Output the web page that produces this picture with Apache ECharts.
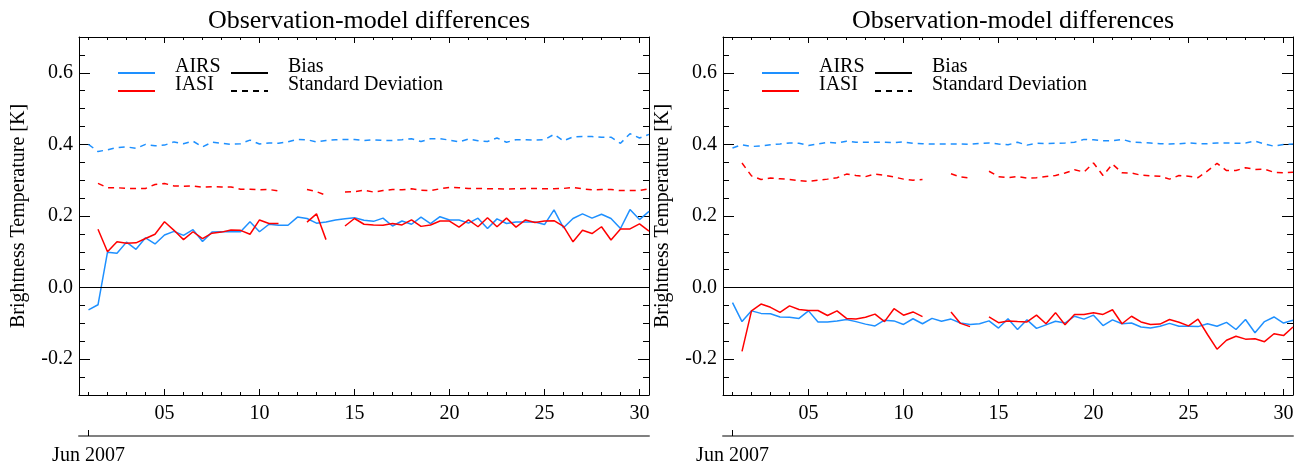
<!DOCTYPE html>
<html>
<head>
<meta charset="utf-8">
<script src="https://cdn.jsdelivr.net/npm/echarts@6/dist/echarts.min.js"></script>
<style>
  html, body { margin: 0; padding: 0; background: #fff; }
  #chart { width: 1302px; height: 466px; }
</style>
</head>
<body>
<div id="chart"></div>
<script>
// half-day time steps, June 2007 (day of month)
const days = [
  1, 1.5, 2, 2.5, 3, 3.5, 4, 4.5, 5, 5.5,
  6, 6.5, 7, 7.5, 8, 8.5, 9, 9.5, 10, 10.5,
  11, 11.5, 12, 12.5, 13, 13.5, 14, 14.5, 15, 15.5,
  16, 16.5, 17, 17.5, 18, 18.5, 19, 19.5, 20, 20.5,
  21, 21.5, 22, 22.5, 23, 23.5, 24, 24.5, 25, 25.5,
  26, 26.5, 27, 27.5, 28, 28.5, 29, 29.5, 30, 30.5
]

// left panel
const airsBiasL = [
  -0.062, -0.048, 0.099, 0.096, 0.127, 0.107, 0.139, 0.122, 0.147, 0.157,
  0.146, 0.162, 0.129, 0.155, 0.156, 0.157, 0.156, 0.184, 0.156, 0.177,
  0.174, 0.174, 0.197, 0.193, 0.180, 0.183, 0.189, 0.192, 0.195, 0.188,
  0.185, 0.194, 0.172, 0.186, 0.177, 0.197, 0.179, 0.198, 0.189, 0.189,
  0.180, 0.194, 0.165, 0.192, 0.179, 0.183, 0.183, 0.183, 0.176, 0.217,
  0.167, 0.193, 0.206, 0.194, 0.205, 0.193, 0.165, 0.218, 0.190, 0.213
]
const iasiBiasL = [
  null, 0.163, 0.100, 0.128, 0.124, 0.125, 0.137, 0.149, 0.184, 0.160,
  0.134, 0.156, 0.137, 0.152, 0.155, 0.161, 0.160, 0.149, 0.189, 0.179,
  0.179, null, null, 0.183, 0.206, 0.134, null, 0.172, 0.193, 0.177,
  0.175, 0.174, 0.179, 0.175, 0.189, 0.171, 0.175, 0.186, 0.186, 0.169,
  0.189, 0.170, 0.195, 0.170, 0.194, 0.169, 0.189, 0.182, 0.186, 0.187,
  0.171, 0.128, 0.160, 0.151, 0.170, 0.133, 0.164, 0.164, 0.178, 0.158
]
const airsStdL = [
  0.400, 0.380, 0.385, 0.391, 0.393, 0.389, 0.400, 0.396, 0.398, 0.407,
  0.402, 0.409, 0.393, 0.406, 0.403, 0.400, 0.402, 0.412, 0.401, 0.404,
  0.403, 0.407, 0.414, 0.413, 0.407, 0.411, 0.413, 0.414, 0.414, 0.411,
  0.413, 0.411, 0.411, 0.413, 0.416, 0.408, 0.416, 0.416, 0.412, 0.407,
  0.415, 0.410, 0.408, 0.418, 0.406, 0.413, 0.413, 0.412, 0.413, 0.428,
  0.410, 0.421, 0.422, 0.422, 0.420, 0.420, 0.403, 0.430, 0.418, 0.428
]
const iasiStdL = [
  null, 0.291, 0.279, 0.279, 0.277, 0.277, 0.277, 0.288, 0.291, 0.284,
  0.283, 0.284, 0.280, 0.282, 0.281, 0.281, 0.275, 0.275, 0.273, 0.274,
  0.270, null, null, 0.274, 0.268, 0.258, null, 0.267, 0.268, 0.272,
  0.267, 0.271, 0.274, 0.273, 0.276, 0.272, 0.271, 0.276, 0.280, 0.279,
  0.277, 0.277, 0.276, 0.276, 0.275, 0.276, 0.277, 0.277, 0.276, 0.276,
  0.277, 0.280, 0.276, 0.273, 0.274, 0.274, 0.271, 0.271, 0.271, 0.276
]

// right panel
const airsBiasR = [
  -0.042, -0.095, -0.065, -0.072, -0.073, -0.082, -0.083, -0.086, -0.065, -0.096,
  -0.096, -0.093, -0.089, -0.095, -0.102, -0.107, -0.091, -0.093, -0.103, -0.087,
  -0.101, -0.086, -0.094, -0.088, -0.099, -0.103, -0.101, -0.093, -0.113, -0.087,
  -0.117, -0.090, -0.114, -0.104, -0.094, -0.099, -0.080, -0.088, -0.077, -0.106,
  -0.090, -0.101, -0.099, -0.110, -0.113, -0.108, -0.100, -0.108, -0.108, -0.109,
  -0.101, -0.108, -0.097, -0.117, -0.089, -0.126, -0.095, -0.082, -0.099, -0.091
]
const iasiBiasR = [
  null, -0.178, -0.065, -0.046, -0.055, -0.069, -0.051, -0.061, -0.064, -0.064,
  -0.078, -0.065, -0.086, -0.088, -0.083, -0.074, -0.095, -0.059, -0.077, -0.068,
  -0.081, null, null, -0.068, -0.100, -0.109, null, -0.082, -0.098, -0.093,
  -0.095, -0.096, -0.077, -0.101, -0.070, -0.104, -0.075, -0.075, -0.070, -0.075,
  -0.062, -0.101, -0.080, -0.096, -0.103, -0.102, -0.089, -0.097, -0.107, -0.088,
  -0.131, -0.172, -0.147, -0.136, -0.144, -0.143, -0.151, -0.129, -0.134, -0.110
]
const airsStdR = [
  0.390, 0.399, 0.394, 0.396, 0.399, 0.401, 0.404, 0.403, 0.397, 0.401,
  0.406, 0.404, 0.409, 0.406, 0.406, 0.406, 0.406, 0.405, 0.407, 0.403,
  0.402, 0.401, 0.401, 0.401, 0.401, 0.400, 0.403, 0.404, 0.401, 0.399,
  0.406, 0.398, 0.403, 0.402, 0.403, 0.404, 0.406, 0.414, 0.413, 0.410,
  0.410, 0.414, 0.407, 0.405, 0.404, 0.402, 0.401, 0.402, 0.404, 0.402,
  0.402, 0.404, 0.404, 0.403, 0.404, 0.409, 0.401, 0.395, 0.400, 0.401
]
const iasiStdR = [
  null, 0.348, 0.312, 0.302, 0.306, 0.304, 0.302, 0.299, 0.297, 0.300,
  0.303, 0.307, 0.317, 0.313, 0.310, 0.317, 0.314, 0.309, 0.303, 0.300,
  0.302, null, null, 0.318, 0.309, 0.306, null, 0.325, 0.310, 0.307,
  0.310, 0.306, 0.307, 0.310, 0.313, 0.320, 0.329, 0.323, 0.348, 0.313,
  0.345, 0.321, 0.320, 0.314, 0.312, 0.311, 0.303, 0.313, 0.311, 0.307,
  0.326, 0.347, 0.327, 0.327, 0.335, 0.330, 0.331, 0.322, 0.321, 0.322
]

// axis ticks / labels
const dayTicks = [1, 2, 3, 4, 5, 6, 7, 8, 9, 10, 11, 12, 13, 14, 15,
  16, 17, 18, 19, 20, 21, 22, 23, 24, 25, 26, 27, 28, 29, 30]
const dayLabels = [5, 10, 15, 20, 25, 30]
const yLabels = [-0.2, 0.0, 0.2, 0.4, 0.6]
const yMinor = [-0.25, -0.15, -0.1, -0.05, 0.05, 0.1, 0.15, 0.25, 0.3, 0.35,
  0.45, 0.5, 0.55, 0.65]
const monthLabel = 'Jun 2007'
const titleText = 'Observation-model differences'
const yName = 'Brightness Temperature [K]'

const FONT = '"Liberation Serif", "DejaVu Serif", serif'
const BLUE = '#1E90FF'
const RED = '#FF0000'
const TICK = '#000'

const grids = [
  { left: 79, width: 570, top: 37, bottom: 70 },
  { left: 723, width: 570, top: 37, bottom: 70 }
]

function pairs (vals) {
  return days.map((d, i) => [d, vals[i]])
}

// v6 hides value-axis ticks by default, so switch them on
function ticks (len, values) {
  return {
    show: true, inside: true, length: len, customValues: values,
    lineStyle: { color: TICK, width: 1 }
  }
}

function xAxes (g) {
  const base = () => ({
    gridIndex: g, type: 'value', min: 0.5, max: 30.5,
    splitLine: { show: false },
    axisLine: { show: true, onZero: false, lineStyle: { color: '#000', width: 1 } }
  })
  const noLine = { show: false, onZero: false }
  return [
    Object.assign(base(), {
      position: 'bottom',
      axisTick: ticks(6, dayLabels),
      axisLabel: {
        customValues: dayLabels, margin: 9, color: '#000', fontFamily: FONT, fontSize: 20,
        formatter: v => String(v).padStart(2, '0')
      }
    }),
    Object.assign(base(), {
      position: 'bottom', axisLine: noLine,
      axisTick: ticks(3, dayTicks), axisLabel: { show: false }
    }),
    Object.assign(base(), {
      position: 'top',
      axisTick: ticks(6, dayLabels), axisLabel: { show: false }
    }),
    Object.assign(base(), {
      position: 'top', axisLine: noLine,
      axisTick: ticks(3, dayTicks), axisLabel: { show: false }
    }),
    // month axis underneath
    Object.assign(base(), {
      position: 'bottom', offset: 41,
      axisLine: { show: true, onZero: false, lineStyle: { color: '#808080', width: 2 } },
      axisTick: ticks(6, [1]),
      axisLabel: {
        customValues: [1], margin: 10, color: '#000', fontFamily: FONT, fontSize: 20,
        formatter: () => monthLabel
      }
    })
  ]
}

function yAxes (g) {
  const base = () => ({
    gridIndex: g, type: 'value', min: -0.3, max: 0.7,
    splitLine: { show: false },
    axisLine: { show: true, onZero: false, lineStyle: { color: '#000', width: 1 } }
  })
  const noLine = { show: false, onZero: false }
  return [
    Object.assign(base(), {
      position: 'left',
      name: yName, nameLocation: 'middle', nameGap: 50,
      nameTextStyle: { fontFamily: FONT, fontSize: 20, color: '#000' },
      axisTick: ticks(11, yLabels),
      axisLabel: {
        customValues: yLabels, margin: 6, color: '#000', fontFamily: FONT, fontSize: 20,
        formatter: v => v.toFixed(1)
      }
    }),
    Object.assign(base(), {
      position: 'left', axisLine: noLine,
      axisTick: ticks(6, yMinor), axisLabel: { show: false }
    }),
    Object.assign(base(), {
      position: 'right',
      axisTick: ticks(11, yLabels), axisLabel: { show: false }
    }),
    Object.assign(base(), {
      position: 'right', axisLine: noLine,
      axisTick: ticks(6, yMinor), axisLabel: { show: false }
    })
  ]
}

function lineSeries (g, vals, color, dashed, withZero) {
  const s = {
    type: 'line',
    xAxisIndex: g * 5, yAxisIndex: g * 4,
    data: pairs(vals),
    showSymbol: false, connectNulls: false, silent: true,
    lineStyle: { color: color, width: 1.5, type: dashed ? [6, 5] : 'solid' },
    animation: false
  }
  if (withZero) {
    s.markLine = {
      silent: true, symbol: 'none', animation: false,
      label: { show: false },
      lineStyle: { color: '#000', width: 1, type: 'solid' },
      data: [{ yAxis: 0 }]
    }
  }
  return s
}

function legend (ox) {
  const txt = (x, y, t) => ({
    type: 'text', x: x + ox, y: y,
    style: { text: t, fill: '#000', fontFamily: FONT, fontSize: 20, verticalAlign: 'middle' }
  })
  const ln = (x1, x2, y, color, dash) => ({
    type: 'line',
    shape: { x1: x1 + ox, y1: y, x2: x2 + ox, y2: y },
    style: { stroke: color, lineWidth: 2, lineDash: dash || null }
  })
  return [
    ln(118, 155, 73, BLUE), ln(118, 155, 91, RED),
    txt(175, 67, 'AIRS'), txt(175, 85, 'IASI'),
    ln(231, 268, 73, '#000'), ln(231, 268, 91, '#000', [6, 5]),
    txt(288, 67, 'Bias'), txt(288, 85, 'Standard Deviation')
  ]
}

const chart = echarts.init(document.getElementById('chart'))
const option = {
  animation: false,
  backgroundColor: '#fff',
  title: grids.map(gr => ({
    text: titleText, left: gr.left + gr.width / 2, top: 3, textAlign: 'center',
    textStyle: { fontFamily: FONT, fontSize: 26, fontWeight: 'normal', color: '#000' }
  })),
  grid: grids,
  xAxis: xAxes(0).concat(xAxes(1)),
  yAxis: yAxes(0).concat(yAxes(1)),
  series: [
    lineSeries(0, airsBiasL, BLUE, false, true),
    lineSeries(0, iasiBiasL, RED, false),
    lineSeries(0, airsStdL, BLUE, true),
    lineSeries(0, iasiStdL, RED, true),
    lineSeries(1, airsBiasR, BLUE, false, true),
    lineSeries(1, iasiBiasR, RED, false),
    lineSeries(1, airsStdR, BLUE, true),
    lineSeries(1, iasiStdR, RED, true)
  ],
  graphic: legend(0).concat(legend(644))
}
chart.setOption(option)
</script>
</body>
</html>
